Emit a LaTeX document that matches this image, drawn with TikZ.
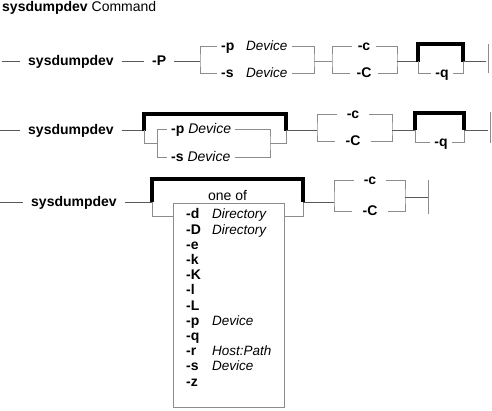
\documentclass[tikz,border=0pt]{standalone}
\usepackage{fontspec}
\setmainfont{Liberation Sans}
\begin{document}
\begin{tikzpicture}
    [x=1pt, y=-1pt,
     every node/.style={font=\fontsize{14pt}{16pt}\selectfont},
     lab/.style={inner ysep=0pt, inner xsep=4pt, text height=9.8pt, text depth=0pt},
     kw/.style={lab, font=\fontsize{14pt}{16pt}\selectfont\bfseries},
     arg/.style={lab, font=\fontsize{13.5pt}{16pt}\selectfont\itshape},
     main/.style={kw, inner xsep=8pt},
     rail/.style={draw=black!65, line width=0.8pt},
     branch/.style={draw=black!45, line width=0.8pt},
     heavy/.style={draw=black, line width=3.5pt, line join=miter},
     box/.style={draw=black!45, line width=0.8pt, inner sep=0pt}]
    \useasboundingbox (0,0) rectangle (492,410);

    \node[anchor=base west, inner sep=0pt] (title) at (2,11) {\textbf{sysdumpdev} Command};

    % first form
    \coordinate (a0) at (2,61);
    \node[main, anchor=west] (sd1) at (20,61) {sysdumpdev};
    \node[main, anchor=west] (P1) at (144,61) {-P};
    \coordinate (a1) at (200,61);
    \node[kw, anchor=west] (pk1) at (217,46) {-p};
    \node[arg, anchor=west] (pd1) at (242,46) {Device};
    \node[kw, anchor=west] (sk1) at (217,73) {-s};
    \node[arg, anchor=west] (sdv1) at (242,73) {Device};
    \coordinate (a2) at (314,61);
    \coordinate (a3) at (332,61);
    \node[kw, inner xsep=6pt] (c1) at (364,46) {-c};
    \node[kw, inner xsep=6pt] (C1) at (364,73) {-C};
    \coordinate (a4) at (397,61);
    \coordinate (a5) at (418,61);
    \node[kw] (q1) at (442,73) {-q};
    \coordinate (a6) at (463,61);
    \coordinate (a7) at (486,61);

    \draw[rail] (a0) -- (sd1);
    \draw[rail] (sd1) -- (P1);
    \draw[rail] (P1) -- (a1);
    \draw[branch] (pk1) -| (a1) |- (sk1);
    \draw[branch] (pd1) -| (a2) |- (sdv1);
    \draw[branch] (a2) -- (a3);
    \draw[branch] (c1) -| (a3) |- (C1);
    \draw[branch] (c1) -| (a4) |- (C1);
    \draw[rail] (a4) -- (a5);
    \draw[heavy] (418,62) |- (463,44) -- (463,62);
    \draw[branch] (a5) |- (q1) -| (a6);
    \draw[rail] (a6) -- (a7);
    \draw[branch] (488,44) -- (488,73);

    % second form
    \coordinate (b0) at (0,130);
    \node[main, anchor=west] (sd2) at (20,130) {sysdumpdev};
    \coordinate (b1) at (144,130);
    \coordinate (b3) at (157,143);
    \node[lab, anchor=west] (p2) at (167,129) {\textbf{-p} \textit{Device}};
    \node[lab, anchor=west] (s2) at (167,157) {\textbf{-s} \textit{Device}};
    \coordinate (b4) at (270,143);
    \coordinate (b2) at (286,130);
    \coordinate (b5) at (317,130);
    \node[kw, inner xsep=10pt] (c2) at (353,114) {-c};
    \node[kw, inner xsep=10pt] (C2) at (353,141) {-C};
    \coordinate (b6) at (392,130);
    \coordinate (b7) at (415,130);
    \node[kw] (q2) at (441,142) {-q};
    \coordinate (b8) at (464,130);
    \coordinate (b9) at (488,130);

    \draw[rail] (b0) -- (sd2);
    \draw[rail] (sd2) -- (b1);
    \draw[heavy] (144,131) |- (286,114) -- (286,131);
    \draw[branch] (b1) |- (b3) |- (p2);
    \draw[branch] (b3) |- (s2);
    \draw[branch] (p2) -| (b4) |- (s2);
    \draw[branch] (b4) -| (b2);
    \draw[rail] (b2) -- (b5);
    \draw[branch] (c2) -| (b5) |- (C2);
    \draw[branch] (c2) -| (b6) |- (C2);
    \draw[rail] (b6) -- (b7);
    \draw[heavy] (415,130) |- (464,113) -- (464,130);
    \draw[branch] (b7) |- (q2) -| (b8);
    \draw[rail] (b8) -- (b9);
    \draw[branch] (490,112) -- (490,143);

    % third form
    \coordinate (d0) at (0,202);
    \node[main, anchor=west] (sd3) at (23,202) {sysdumpdev};
    \coordinate (d1) at (152,202);
    \node[anchor=base, inner sep=0pt] (oneof) at (227.5,200) {one of};
    \node[box, minimum width=111pt, minimum height=204pt, anchor=north west] (lst) at (173,203) {};
    \foreach \k/\a [count=\i from 0] in {-d/Directory, -D/Directory, -e/, -k/, -K/, -l/, -L/,
        -p/Device, -q/, -r/Host:Path, -s/Device, -z/}
      \node[lab, anchor=west] (o\i) at (182,214+15.2*\i)
        {\makebox[26pt][l]{\textbf{\k}}{\fontsize{13.5pt}{16pt}\selectfont\textit{\a}}};
    \coordinate (d3) at (303,202);
    \coordinate (d4) at (334,202);
    \node[kw, inner xsep=10pt] (c3) at (370,180) {-c};
    \node[kw, inner xsep=10pt] (C3) at (370,211) {-C};
    \coordinate (d5) at (405,197);
    \coordinate (d6) at (428,197);

    \draw[rail] (d0) -- (sd3);
    \draw[rail] (sd3) -- (d1);
    \draw[heavy] (152,202) |- (303,179) -- (303,202);
    \draw[branch] (d1) |- ([yshift=-13pt]lst.north west);
    \draw[branch] ([yshift=-13pt]lst.north east) -| (d3);
    \draw[rail] (d3) -- (d4);
    \draw[branch] (c3) -| (d4) |- (C3);
    \draw[branch] (c3) -| (d5) |- (C3);
    \draw[rail] (d5) -- (d6);
    \draw[branch] (428,180) -- (428,214);
\end{tikzpicture}
\end{document}
